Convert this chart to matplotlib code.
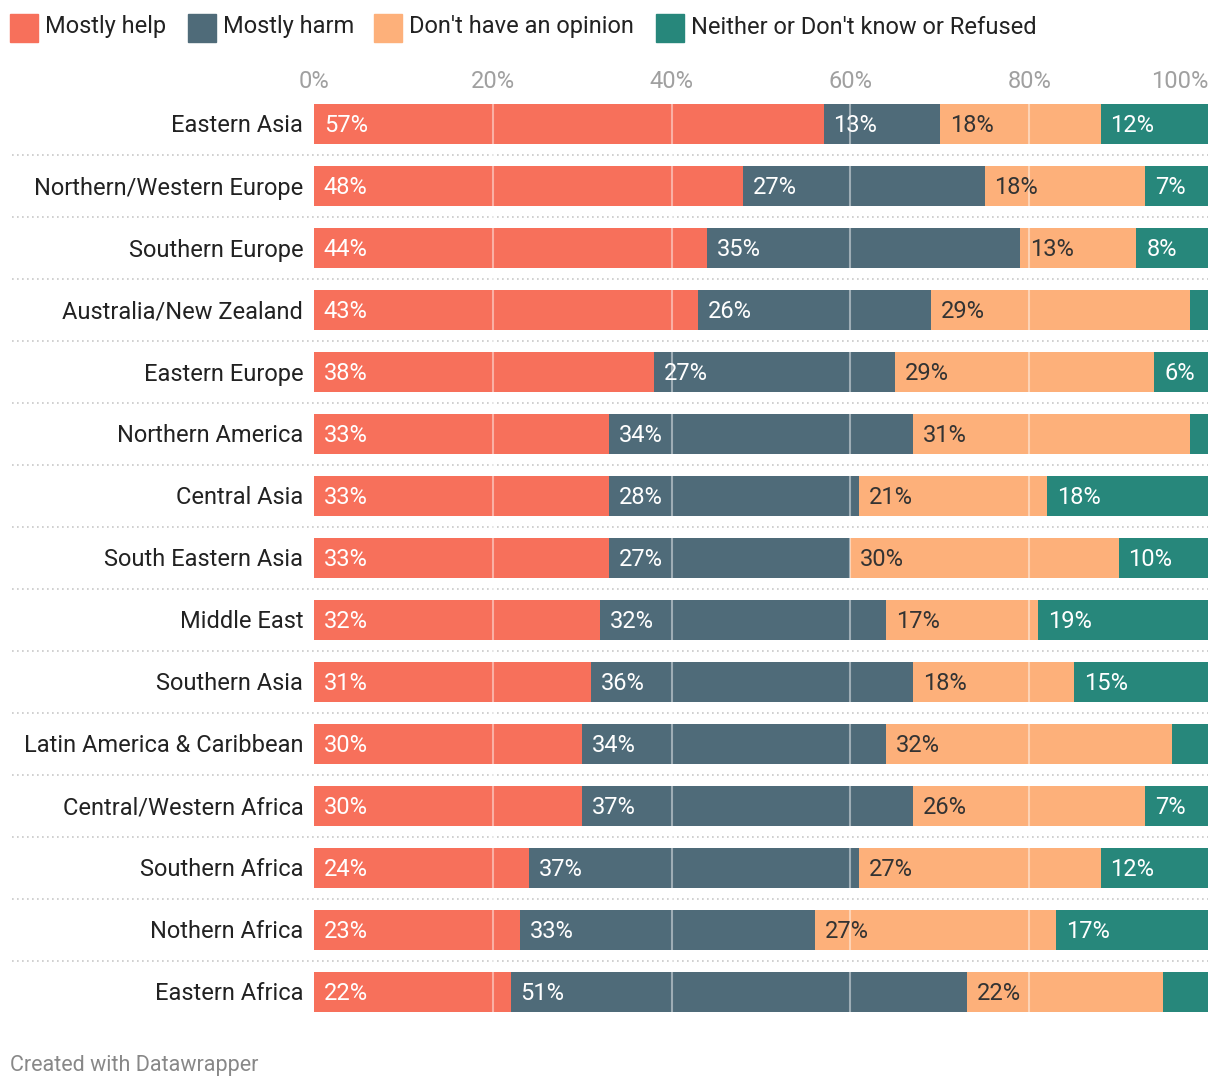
import matplotlib
matplotlib.use("Agg")
import matplotlib.pyplot as plt
from matplotlib.patches import Rectangle
from matplotlib.transforms import blended_transform_factory
import numpy as np

plt.rcParams['font.family'] = ['Roboto', 'DejaVu Sans']

regions = ["Eastern Asia", "Northern/Western Europe", "Southern Europe",
           "Australia/New Zealand", "Eastern Europe", "Northern America",
           "Central Asia", "South Eastern Asia", "Middle East", "Southern Asia",
           "Latin America & Caribbean", "Central/Western Africa",
           "Southern Africa", "Nothern Africa", "Eastern Africa"]
series_names = ["Mostly help", "Mostly harm", "Don't have an opinion",
                "Neither or Don't know or Refused"]
mostly_help = [57, 48, 44, 43, 38, 33, 33, 33, 32, 31, 30, 30, 24, 23, 22]
mostly_harm = [13, 27, 35, 26, 27, 34, 28, 27, 32, 36, 34, 37, 37, 33, 51]
no_opinion = [18, 18, 13, 29, 29, 31, 21, 30, 17, 18, 32, 26, 27, 27, 22]
neither = [12, 7, 8, 2, 6, 2, 18, 10, 19, 15, 4, 7, 12, 17, 5]
ticks = [0, 20, 40, 60, 80, 100]
tick_labels = ["0%", "20%", "40%", "60%", "80%", "100%"]

colors = ["#f7705b", "#4f6b79", "#fdb07a", "#27877b"]
text_colors = ["white", "white", "#333333", "white"]

W, H = 1220, 1090
fig = plt.figure(figsize=(W / 100, H / 100), dpi=100)
ax = fig.add_axes([314 / W, 1 - 1023 / H, 894 / W, 930 / H])
n = len(regions)
ax.set_xlim(0, 100)
ax.set_ylim(n - 0.5, -0.5)
ax.axis('off')

data = [mostly_help, mostly_harm, no_opinion, neither]
y = np.arange(n)
left = np.zeros(n)
bar_h = 40 / 62
dy = 2 / 62
for k, vals in enumerate(data):
    vals = np.array(vals, dtype=float)
    ax.barh(y, vals, left=left, height=bar_h, color=colors[k], edgecolor='none', zorder=2)
    for i in range(n):
        if vals[i] >= 6:
            ax.text(left[i] + 1.1, y[i] + dy, f"{int(vals[i])}%", ha='left', va='center',
                    fontsize=17, color=text_colors[k], zorder=4)
    left += vals

# gridlines over bars
for t in ticks[1:-1]:
    ax.axvline(t, color='white', alpha=0.45, lw=1.5, zorder=3)

# tick labels at top
for t, lab in zip(ticks, tick_labels):
    ha = 'right' if t == 100 else 'center'
    ax.text(t, -0.5 - 12 / 62, lab, ha=ha, va='center', fontsize=17, color='#a0a0a0')

# row labels
for i, r in enumerate(regions):
    ax.text(-1.2, i + dy, r, ha='right', va='center', fontsize=17, color='#222222')

# dotted separators
tr = blended_transform_factory(fig.transFigure, ax.transData)
for i in range(n - 1):
    ax.plot([12 / W, 1208 / W], [i + 0.5, i + 0.5], transform=tr, color='#c8c8c8',
            lw=1.2, linestyle=(0, (1, 2)), clip_on=False, zorder=1)

# legend
leg_x = [10, 188, 374, 656]
for lx, name, c in zip(leg_x, series_names, colors):
    fig.patches.append(Rectangle((lx / W, 1 - 42 / H), 28 / W, 28 / H,
                                 transform=fig.transFigure, color=c))
    fig.text((lx + 35) / W, 1 - 27 / H, name, ha='left', va='center',
             fontsize=17, color='#222222')

fig.text(10 / W, 1 - 1065 / H, "Created with Datawrapper", ha='left', va='center',
         fontsize=15.5, color='#888888')

fig.savefig("out.png", dpi=100, facecolor='white')
